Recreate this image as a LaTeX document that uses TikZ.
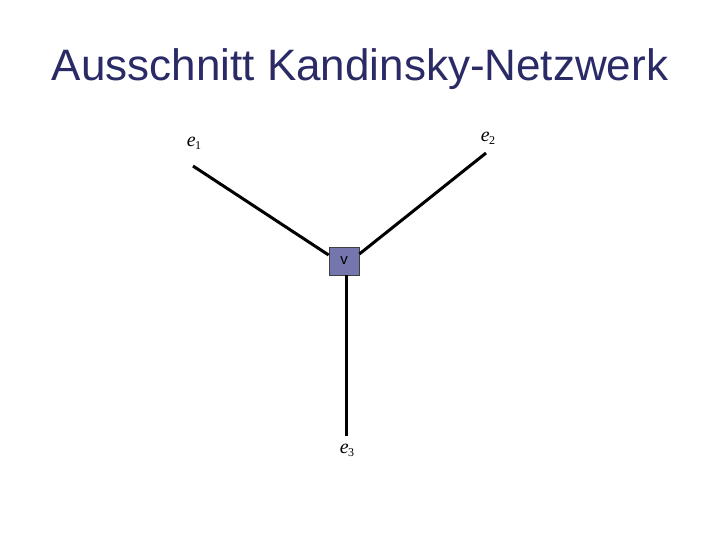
\documentclass[tikz,border=0pt]{standalone}
\usepackage{fontspec}
\setmainfont{Liberation Serif}
\newfontfamily\titlefont{Liberation Sans}
\definecolor{titleblue}{HTML}{2A2A66}
\definecolor{vfill}{HTML}{7676AE}
\newcommand{\elbl}[1]{\textit{e}\kern-0.5pt\raisebox{-0.35ex}{\fontsize{12}{12}\selectfont #1}}
\begin{document}
\begin{tikzpicture}[x=1pt,y=-1pt,
  edge/.style={line width=3pt,black},
  lbl/.style={font=\fontsize{20}{22}\selectfont,inner sep=0pt},
  vbox/.style={draw=black!75,line width=0.8pt,fill=vfill,minimum width=30pt,minimum height=28pt,inner sep=0pt,font=\titlefont\fontsize{15}{16}\selectfont}]
\useasboundingbox (0,0) rectangle (720,540);
\node[font=\titlefont\fontsize{44}{48}\selectfont,text=titleblue] (title) at (360,69) {Ausschnitt Kandinsky-Netzwerk};
\node[vbox] (v) at (344,261) {v};
\node[lbl] (e1) at (194,143) {\elbl{1}};
\node[lbl] (e2) at (488,138) {\elbl{2}};
\node[lbl] (e3) at (347,450) {\elbl{3}};
\coordinate (a1) at (193,166);
\coordinate (a2) at (486,153);
\coordinate (a3) at (346,436);
\draw[edge] (a1) -- (v.west |- 0,255);
\draw[edge] (a2) -- (v.east |- 0,254);
\draw[edge] (v.south -| a3) -- (a3);
\end{tikzpicture}
\end{document}
